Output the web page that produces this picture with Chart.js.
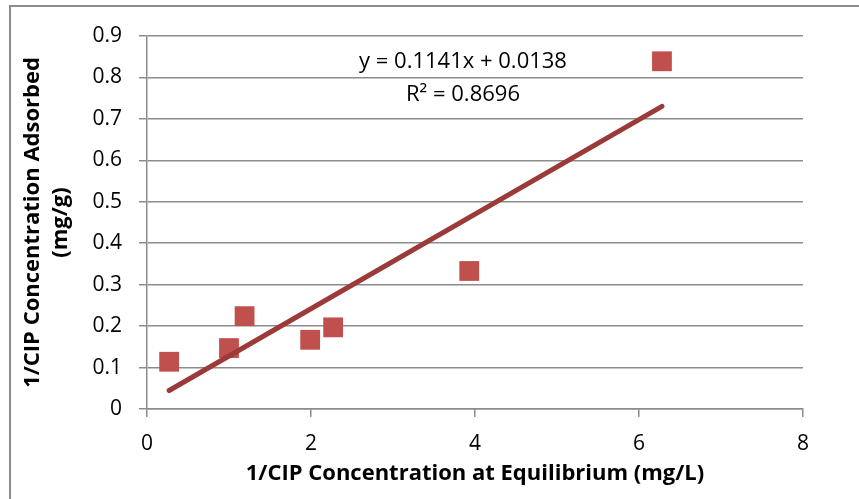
<!DOCTYPE html>
<html>
<head>
<meta charset="utf-8">
<script src="https://cdn.jsdelivr.net/npm/chart.js@4.4.0/dist/chart.umd.min.js"></script>
<style>
  html, body { margin: 0; padding: 0; background: #fff; }
  #wrap { position: relative; width: 859px; height: 499px; overflow: hidden; }
  #frame { position: absolute; left: 9px; top: 5px; width: 900px; height: 540px;
           border-left: 2px solid #8c8c8c; border-top: 2px solid #8c8c8c; }
  canvas { position: absolute; left: 0; top: 0; }
</style>
</head>
<body>
<div id="wrap">
  <div id="frame"></div>
  <canvas id="chart" width="859" height="499"></canvas>
</div>
<script>
// measured isotherm points (1/Ce vs 1/qe)
const invCe = [0.27, 1.00, 1.19, 1.99, 2.27, 3.93, 6.28];
const invQe = [0.114, 0.147, 0.224, 0.167, 0.197, 0.333, 0.839];

// linear fit reported on the chart
const slope = 0.1141;
const intercept = 0.0138;
const r2 = 0.8696;

const xTicks = [0, 2, 4, 6, 8];
const yTicks = [0, 0.1, 0.2, 0.3, 0.4, 0.5, 0.6, 0.7, 0.8, 0.9];

const FONT = "'Open Sans', 'Noto Sans', sans-serif";
const AXIS_GRAY = "#8c8c8c";

const points = invCe.map((x, i) => ({ x: x, y: invQe[i] }));
const xMin = Math.min(...invCe);
const xMax = Math.max(...invCe);
const trend = [xMin, xMax].map(x => ({ x: x, y: slope * x + intercept }));

// equation + R² label above the fit line
const equationLabel = {
    id: "equationLabel",
    afterDatasetsDraw(chart) {
        const ctx = chart.ctx;
        ctx.save();
        ctx.fillStyle = "#000";
        ctx.font = "22px " + FONT;
        ctx.textAlign = "center";
        ctx.textBaseline = "middle";
        ctx.fillText("y = " + slope + "x + " + intercept, 463, 62);
        ctx.fillText("R\u00B2 = " + r2, 463, 95);
        ctx.restore();
    }
};

new Chart(document.getElementById("chart"), {
    type: "scatter",
    data: {
        datasets: [
            {
                label: "1/qe",
                data: points,
                pointStyle: "rect",
                pointRadius: 14,
                pointHoverRadius: 14,
                backgroundColor: "#C0504D",
                borderWidth: 0,
                order: 2,
            },
            {
                label: "Linear fit",
                type: "line",
                data: trend,
                borderColor: "#9b3a38",
                borderWidth: 5,
                borderCapStyle: "round",
                pointRadius: 0,
                fill: false,
                order: 1,
            },
        ],
    },
    options: {
        responsive: false,
        animation: false,
        events: [],
        layout: { padding: { top: 36, right: 56, bottom: 0, left: 0 } },
        plugins: {
            legend: { display: false },
            tooltip: { enabled: false },
        },
        scales: {
            x: {
                type: "linear",
                min: 0,
                max: 8,
                afterBuildTicks: (axis) => { axis.ticks = xTicks.map(v => ({ value: v })); },
                afterFit: (axis) => { axis.height = 90; },
                grid: { drawOnChartArea: false, drawTicks: true, tickLength: 8, color: AXIS_GRAY, lineWidth: 1.5 },
                border: { color: AXIS_GRAY, width: 1.5 },
                ticks: { color: "#000", font: { family: FONT, size: 21 }, padding: 14, maxRotation: 0 },
                title: {
                    display: true,
                    text: "1/CIP Concentration at Equilibrium (mg/L)",
                    color: "#000",
                    font: { family: FONT, size: 22, weight: "bold", lineHeight: 1.2 },
                    padding: { top: 0, bottom: 12 },
                },
            },
            y: {
                type: "linear",
                min: 0,
                max: 0.9,
                afterBuildTicks: (axis) => { axis.ticks = yTicks.map(v => ({ value: v })); },
                afterFit: (axis) => { axis.width = 147; },
                grid: { drawTicks: true, tickLength: 8, color: AXIS_GRAY, lineWidth: 1.5 },
                border: { color: AXIS_GRAY, width: 1.5 },
                ticks: {
                    color: "#000",
                    font: { family: FONT, size: 21 },
                    padding: 17,
                    callback: (v) => String(+v.toFixed(1)),
                },
                title: {
                    display: true,
                    text: ["1/CIP Concentration Adsorbed", "(mg/g)"],
                    color: "#000",
                    font: { family: FONT, size: 22, weight: "bold", lineHeight: 1.3 },
                    padding: { top: 18, bottom: 0 },
                },
            },
        },
    },
    plugins: [equationLabel],
});
</script>
</body>
</html>
